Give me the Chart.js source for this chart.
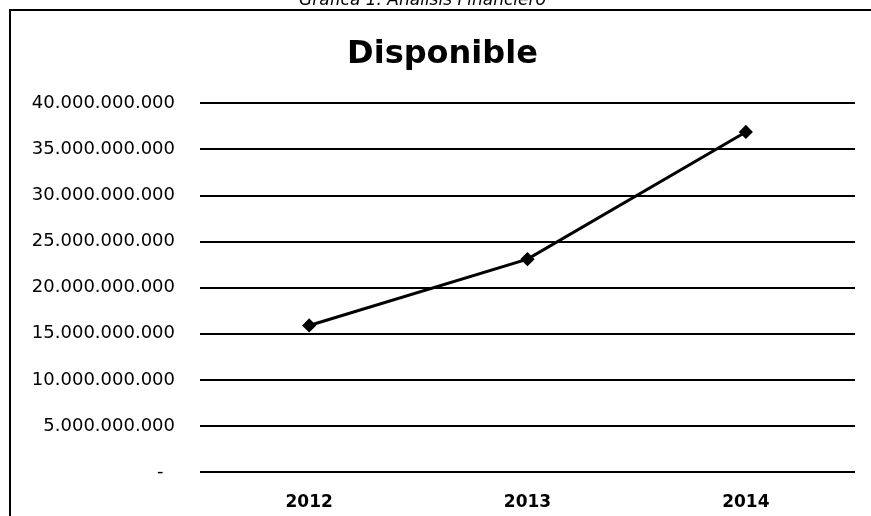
<!DOCTYPE html>
<html>
<head>
<meta charset="utf-8">
<script src="https://cdn.jsdelivr.net/npm/chart.js@4"></script>
<style>
    body { margin: 0; background: #fff; overflow: hidden; }
    #contenedor { position: relative; width: 871px; height: 516px; }
    #marco { position: absolute; left: 9px; top: 9px; width: 900px; height: 600px;
             border-left: 2px solid #000; border-top: 2px solid #000; }
    #grafica_titulo { position: absolute; left: 297px; top: -10px; font: italic 17px "DejaVu Sans";
                      line-height: 18px; color: #000; white-space: nowrap; background: #fff; padding: 0 2px; }
</style>
</head>
<body>
<div id="contenedor">
    <div id="marco"></div>
    <div id="grafica_titulo">Gráfica 1. Análisis Financiero</div>
    <canvas id="chart" width="871" height="516"></canvas>
</div>
<script>
// datos del disponible por año
var anios = ["2012", "2013", "2014"];
var disponible = [15900000000, 23100000000, 36900000000];
var marcas_y = [0, 5000000000, 10000000000, 15000000000, 20000000000, 25000000000, 30000000000, 35000000000, 40000000000];

function formato_miles(v) {
    if (v == 0) return "-  ";
    return v.toString().replace(/\B(?=(\d{3})+(?!\d))/g, ".");
}

function ver_grafico() {
    var canvas = document.getElementById('chart').getContext('2d');
    window.linea = new Chart(canvas, {
        type: "line",
        data: {
            labels: anios,
            datasets: [{
                label: "Disponible",
                data: disponible,
                borderColor: "#000",
                backgroundColor: "#000",
                borderWidth: 3,
                pointStyle: "rectRot",
                pointRadius: 5,
                tension: 0
            }]
        },
        options: {
            responsive: false,
            animation: false,
            layout: { padding: { left: 30, right: 16, top: 28, bottom: 0 } },
            plugins: {
                legend: { display: false },
                tooltip: { enabled: false },
                title: {
                    display: true,
                    text: "Disponible",
                    color: "#000",
                    font: { family: "DejaVu Sans", size: 32, weight: "bold" },
                    padding: { top: 7, bottom: 30 }
                }
            },
            scales: {
                x: {
                    offset: true,
                    grid: { display: false, drawTicks: false },
                    border: { display: false },
                    ticks: { color: "#000", padding: 20, font: { family: "DejaVu Sans", size: 17, weight: "bold" } },
                    afterFit: function (scale) { scale.height = 44; }
                },
                y: {
                    min: 0,
                    max: 40000000000,
                    afterBuildTicks: function (scale) {
                        scale.ticks = marcas_y.map(function (v) { return { value: v }; });
                    },
                    grid: { color: "#000", lineWidth: 2, drawTicks: false },
                    border: { display: false },
                    ticks: {
                        color: "#000",
                        padding: 25,
                        font: { family: "DejaVu Sans", size: 18 },
                        callback: function (v) { return formato_miles(v); }
                    },
                    afterFit: function (scale) { scale.width = 170; }
                }
            }
        }
    });
}

ver_grafico();
</script>
</body>
</html>
